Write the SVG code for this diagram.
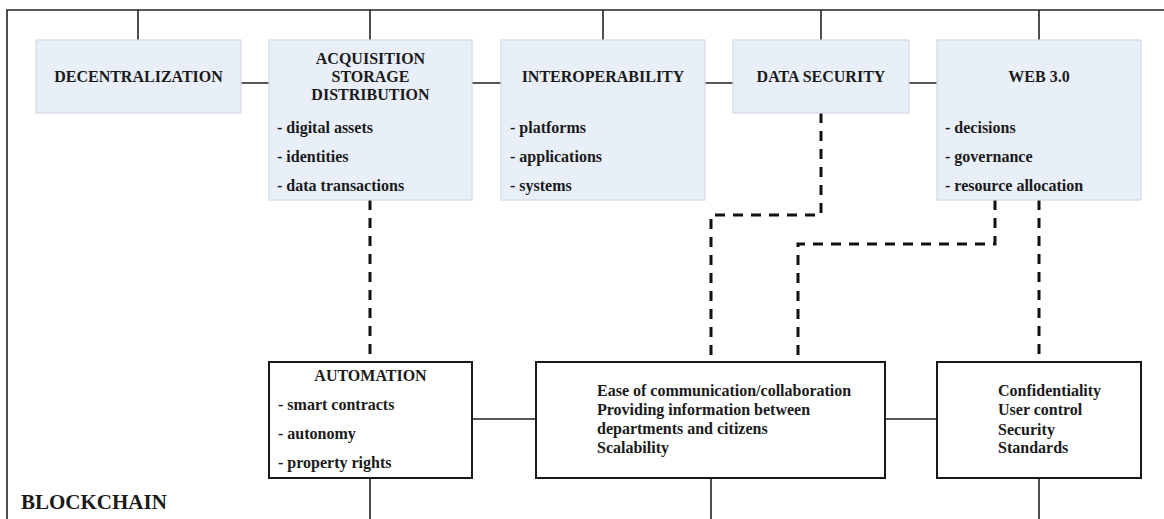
<svg xmlns="http://www.w3.org/2000/svg" width="1164" height="519" viewBox="0 0 1164 519">
<style>
.t{font-family:"Liberation Serif","Times New Roman",serif;font-weight:bold;font-size:16px;fill:#1a1a1a}
.c{text-anchor:middle}
.top{fill:#e9eff9;stroke:#d3d9e3;stroke-width:1.2}
.bot{fill:#ffffff;stroke:#1a1a1a;stroke-width:2}
.ln{fill:none;stroke:#222;stroke-width:1.6}
.ds{fill:none;stroke:#111;stroke-width:3;stroke-dasharray:10 8}
</style>
<rect width="1164" height="519" fill="#ffffff"/>
<g id="connectors">
<path class="ln" d="M7,519 V10 H1164"/>
<path class="ln" d="M138,10 V40 M370,10 V40 M603,10 V40 M821,10 V40 M1039,10 V40"/>
<path class="ln" d="M241,83 H269 M472,83 H501 M705,83 H733 M909,83 H937"/>
<path class="ln" d="M472,419 H536 M885,419 H937"/>
<path class="ln" d="M370,478 V519 M711,478 V519 M1039,478 V519"/>
<path class="ds" d="M370,200 V362"/>
<path class="ds" d="M821,113 V215 H711 V362"/>
<path class="ds" d="M995,200 V244 H798 V362"/>
<path class="ds" d="M1039,200 V362"/>
</g>
<g id="decentralization">
<rect class="top" x="36" y="40" width="205" height="73"/>
<text class="t c" x="138.5" y="82">DECENTRALIZATION</text>
</g>
<g id="acquisition">
<rect class="top" x="269" y="40" width="203" height="160"/>
<text class="t c" x="370.5" y="64">ACQUISITION</text>
<text class="t c" x="370.5" y="82">STORAGE</text>
<text class="t c" x="370.5" y="100">DISTRIBUTION</text>
<text class="t" x="277" y="133">- digital assets</text>
<text class="t" x="277" y="162">- identities</text>
<text class="t" x="277" y="191">- data transactions</text>
</g>
<g id="interoperability">
<rect class="top" x="501" y="40" width="204" height="160"/>
<text class="t c" x="603" y="82">INTEROPERABILITY</text>
<text class="t" x="510" y="133">- platforms</text>
<text class="t" x="510" y="162">- applications</text>
<text class="t" x="510" y="191">- systems</text>
</g>
<g id="data-security">
<rect class="top" x="733" y="40" width="176" height="73"/>
<text class="t c" x="821" y="82">DATA SECURITY</text>
</g>
<g id="web3">
<rect class="top" x="937" y="40" width="204" height="160"/>
<text class="t c" x="1039" y="82">WEB 3.0</text>
<text class="t" x="945" y="133">- decisions</text>
<text class="t" x="945" y="162">- governance</text>
<text class="t" x="945" y="191">- resource allocation</text>
</g>
<g id="automation">
<rect class="bot" x="269" y="362" width="203" height="116"/>
<text class="t c" x="370.5" y="381">AUTOMATION</text>
<text class="t" x="278" y="410">- smart contracts</text>
<text class="t" x="278" y="439">- autonomy</text>
<text class="t" x="278" y="468">- property rights</text>
</g>
<g id="communication">
<rect class="bot" x="536" y="362" width="349" height="116"/>
<text class="t" x="597" y="396">Ease of communication/collaboration</text>
<text class="t" x="597" y="415">Providing information between</text>
<text class="t" x="597" y="434">departments and citizens</text>
<text class="t" x="597" y="453">Scalability</text>
</g>
<g id="confidentiality">
<rect class="bot" x="937" y="362" width="204" height="116"/>
<text class="t" x="998" y="396">Confidentiality</text>
<text class="t" x="998" y="415">User control</text>
<text class="t" x="998" y="435">Security</text>
<text class="t" x="998" y="453">Standards</text>
</g>
<g id="blockchain">
<text class="t" x="21" y="509" style="font-size:21px">BLOCKCHAIN</text>
</g>
</svg>
